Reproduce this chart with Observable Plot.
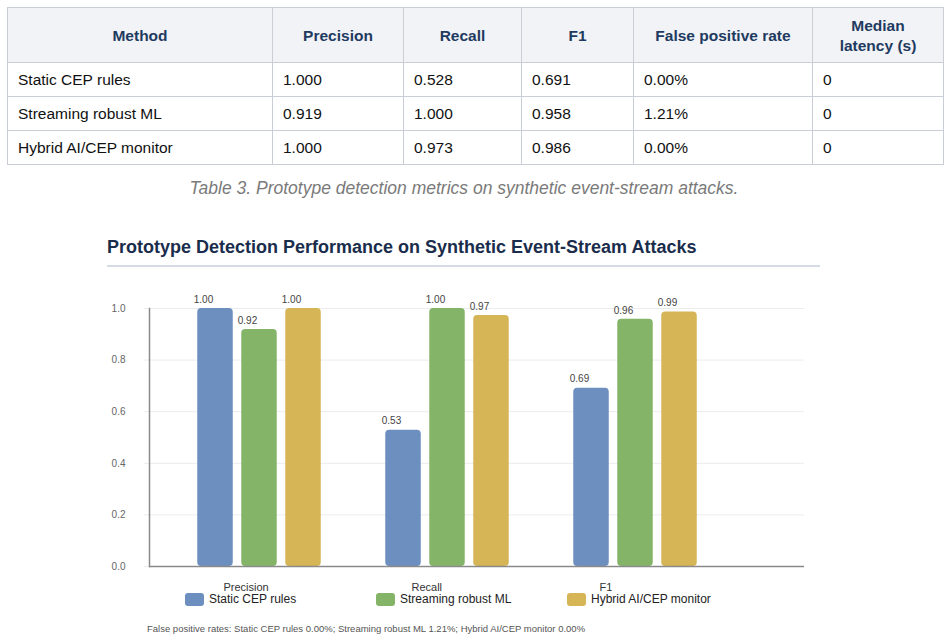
<!DOCTYPE html>
<html>
<head>
<meta charset="utf-8">
<script src="https://cdn.jsdelivr.net/npm/d3@7"></script>
<script src="https://cdn.jsdelivr.net/npm/@observablehq/plot@0.6"></script>
<style>
  html, body { margin: 0; padding: 0; background: #fff; }
  body { width: 950px; height: 641px; position: relative; overflow: hidden; font-family: "Liberation Sans", Arial, sans-serif; }
  table { position: absolute; left: 7px; top: 7px; width: 936px; border-collapse: collapse; table-layout: fixed; font-size: 15.5px; color: #111; }
  th, td { border: 1px solid #c9ced6; }
  th { background: #f1f3f7; color: #1f3a5f; font-weight: bold; text-align: center; height: 53px; line-height: 20px; padding: 1px 8px 0 8px; }
  td { height: 33px; padding: 0 10px; text-align: left; }
  #caption { position: absolute; left: 0; width: 928px; top: 178px; text-align: center; font-style: italic; color: #7a7a7a; font-size: 17.5px; }
  #title { position: absolute; left: 107px; top: 237px; font-size: 18px; font-weight: bold; color: #1a2d4c; white-space: nowrap; }
  #rule { position: absolute; left: 107px; top: 265px; width: 713px; height: 2px; background: #d4dbe5; }
  #chart { position: absolute; left: 0; top: 280px; }
  #legend { position: absolute; left: 185px; top: 592px; display: grid; grid-template-columns: 191px 191px 191px; font-size: 12px; color: #222; }
  .item { display: flex; align-items: center; white-space: nowrap; }
  .sw { width: 19px; height: 13px; border-radius: 3px; margin-right: 5px; }
  #note { position: absolute; left: 147px; top: 623px; font-size: 9.5px; color: #555; white-space: nowrap; }
</style>
</head>
<body>
<div id="tablewrap"></div>
<div id="caption">Table 3. Prototype detection metrics on synthetic event-stream attacks.</div>
<div id="title">Prototype Detection Performance on Synthetic Event-Stream Attacks</div>
<div id="rule"></div>
<div id="chart"></div>
<div id="legend"></div>
<div id="note"></div>
<script>
// ---- data ----
const metrics = ["Precision", "Recall", "F1"];
const methods = ["Static CEP rules", "Streaming robust ML", "Hybrid AI/CEP monitor"];
const precision = [1.000, 0.919, 1.000];
const recall = [0.528, 1.000, 0.973];
const f1 = [0.691, 0.958, 0.986];
const falsePositiveRate = ["0.00%", "1.21%", "0.00%"];
const medianLatency = [0, 0, 0];
const tableHeaders = ["Method", "Precision", "Recall", "F1", "False positive rate", "Median latency (s)"];
const colors = ["#6c8fbf", "#84b468", "#d6b556"];
const yTicks = [0, 0.2, 0.4, 0.6, 0.8, 1.0];

// ---- table ----
const colWidths = [265, 131, 118, 112, 179, 131];
let html = "<table><colgroup>" + colWidths.map(w => `<col style="width:${w}px">`).join("") + "</colgroup><thead><tr>";
tableHeaders.forEach((h, i) => {
  const label = i === 5 ? "Median<br>latency (s)" : h;
  html += `<th>${label}</th>`;
});
html += "</tr></thead><tbody>";
methods.forEach((m, i) => {
  html += `<tr><td>${m}</td><td>${precision[i].toFixed(3)}</td><td>${recall[i].toFixed(3)}</td><td>${f1[i].toFixed(3)}</td><td>${falsePositiveRate[i]}</td><td>${medianLatency[i]}</td></tr>`;
});
html += "</tbody></table>";
document.getElementById("tablewrap").innerHTML = html;

// ---- chart data ----
const seriesValues = [precision, recall, f1];
const data = methods.flatMap((method, i) =>
  metrics.map((metric, j) => ({method, metric, value: seriesValues[j][i]}))
);

const barW = 36, step = 44, band = 188.5;
const inset = (band - barW) / 2;

const marks = [
  Plot.ruleY(yTicks, {stroke: "#ececec", strokeWidth: 1, insetLeft: -5}),
];
methods.forEach((m, i) => {
  const rows = data.filter(d => d.method === m);
  marks.push(Plot.barY(rows, {x: "metric", y: "value", fill: "method", dx: (i - 1) * step, insetLeft: inset, insetRight: inset, rx: 4}));
  marks.push(Plot.text(rows, {x: "metric", y: "value", text: d => d.value.toFixed(2), dx: (i - 1) * step - 12, dy: -9, fontSize: 10, fill: "#444"}));
});
marks.push(
  Plot.ruleY([0], {stroke: "#8a8a8a", strokeWidth: 1.5}),
  Plot.frame({anchor: "left", stroke: "#8a8a8a", strokeWidth: 1.5}),
  Plot.axisY({ticks: yTicks, tickSize: 0, tickPadding: 24, tickFormat: d3.format(".1f"), fontSize: 10, fill: "#666"}),
  Plot.axisX({tickSize: 0, tickPadding: 17, textAnchor: "start", dx: -36, fontSize: 11, fill: "#333"})
);

const chart = Plot.plot({
  width: 950,
  height: 316,
  marginLeft: 149,
  marginRight: 146,
  marginTop: 28,
  marginBottom: 30,
  style: {fontFamily: "'Liberation Sans', Arial, sans-serif", background: "transparent", overflow: "visible"},
  x: {domain: metrics, range: [163.75, 729.25], padding: 0, label: null},
  y: {domain: [0, 1], label: null},
  color: {domain: methods, range: colors},
  marks
});
document.getElementById("chart").append(chart);

// ---- legend ----
document.getElementById("legend").innerHTML = methods.map((m, i) =>
  `<div class="item"><span class="sw" style="background:${colors[i]}"></span>${m}</div>`).join("");

// ---- footnote ----
document.getElementById("note").textContent =
  "False positive rates: " + methods.map((m, i) => `${m} ${falsePositiveRate[i]}`).join("; ");
</script>
</body>
</html>
